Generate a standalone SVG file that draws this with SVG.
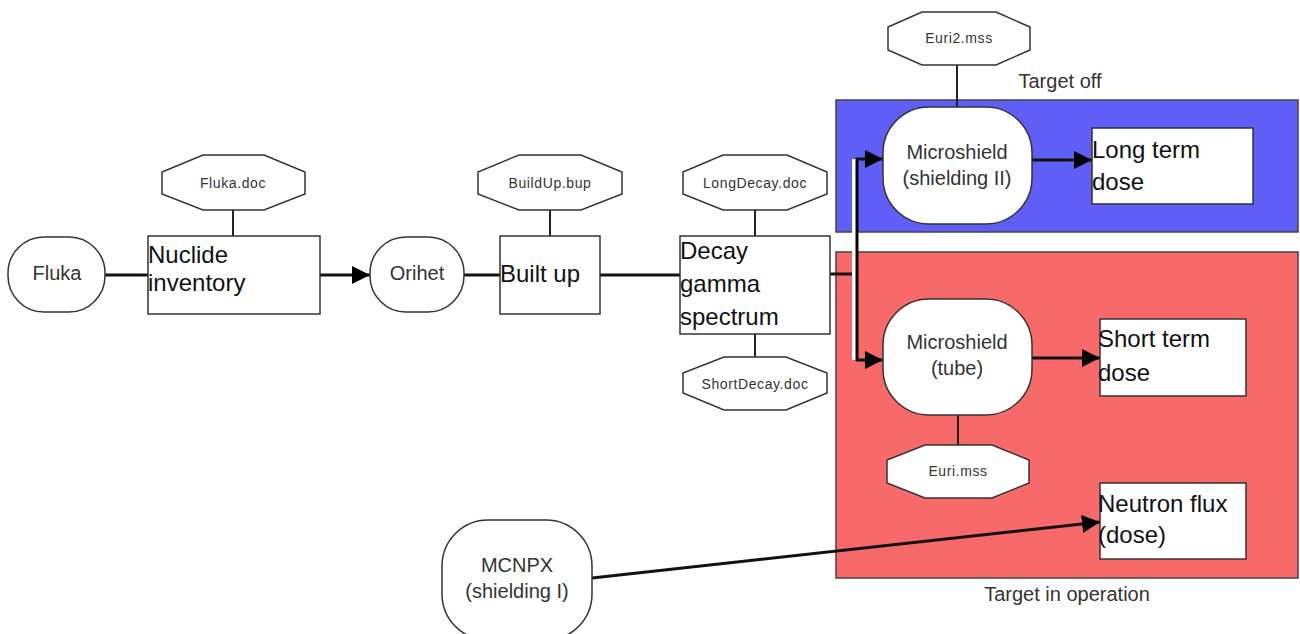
<svg xmlns="http://www.w3.org/2000/svg" width="1300" height="634" viewBox="0 0 1300 634">
<style>
.bg{fill:#fff}
.node{fill:#fff;stroke:#333;stroke-width:1.5}
.oct{fill:#fff;stroke:#333;stroke-width:1.5}
.zone{stroke:#444;stroke-width:1.5}
.big{font-family:"Liberation Sans",Arial,sans-serif;font-size:24px;fill:#111}
.mid{font-family:"Liberation Sans",Arial,sans-serif;font-size:20px;fill:#333;text-anchor:middle}
.sml{font-family:"Liberation Sans",Arial,sans-serif;font-size:14px;letter-spacing:0.6px;fill:#333;text-anchor:middle}
.con{stroke:#111;stroke-width:3;fill:none}
.thin{stroke:#222;stroke-width:2;fill:none}
.arr{marker-end:url(#ah)}
</style>
<defs>
<marker id="ah" markerUnits="userSpaceOnUse" markerWidth="18" markerHeight="18" refX="18" refY="9" orient="auto">
<path d="M0,0 L18,9 L0,18 z" fill="#000"/>
</marker>
</defs>
<rect class="bg" x="0" y="0" width="1300" height="634"/>

<g id="zone-target-off">
<rect class="zone" x="836" y="100" width="462" height="132" fill="#5f5ff8"/>
<text class="mid" x="1060" y="88">Target off</text>
</g>
<g id="zone-target-in-operation">
<rect class="zone" x="836" y="252" width="462" height="326" fill="#f86a6a"/>
<text class="mid" x="1067" y="601">Target in operation</text>
</g>

<g id="connectors">
<line class="con" x1="105" y1="275" x2="148" y2="275"/>
<line class="con arr" x1="320" y1="275" x2="370" y2="275"/>
<line class="con" x1="464" y1="275" x2="500" y2="275"/>
<line class="con" x1="600" y1="275" x2="680" y2="275"/>
<line class="con" x1="826" y1="274" x2="858" y2="274"/>
<line x1="854" y1="159" x2="854" y2="360" stroke="#fff" stroke-width="4"/>
<line x1="857" y1="158" x2="857" y2="361" stroke="#000" stroke-width="3"/>
<line class="con arr" x1="856" y1="159" x2="883" y2="159"/>
<line class="con arr" x1="856" y1="360" x2="883" y2="360"/>
<line class="con arr" x1="1032" y1="160" x2="1092" y2="160"/>
<line class="con arr" x1="1032" y1="358" x2="1100" y2="358"/>
<line class="con arr" x1="592" y1="578" x2="1100" y2="522"/>
<line class="thin" x1="233" y1="210" x2="233" y2="236"/>
<line class="thin" x1="550" y1="210" x2="550" y2="236"/>
<line class="thin" x1="755" y1="210" x2="755" y2="236"/>
<line class="thin" x1="755" y1="334" x2="755" y2="357"/>
<line class="thin" x1="957" y1="65" x2="957" y2="107"/>
<line class="thin" x1="958" y1="415" x2="958" y2="445"/>
</g>

<g id="fluka">
<rect class="node" x="8" y="237" width="97" height="75" rx="36" ry="36"/>
<text class="mid" x="57" y="280">Fluka</text>
</g>
<g id="fluka-doc">
<polygon class="oct" points="203,155 264,155 305,172 305,194 264,210 203,210 162,194 162,172"/>
<text class="sml" x="233" y="188">Fluka.doc</text>
</g>
<g id="nuclide-inventory">
<rect class="node" x="148" y="236" width="172" height="78"/>
<text class="big" x="148" y="263">Nuclide</text>
<text class="big" x="148" y="291">inventory</text>
</g>
<g id="orihet">
<rect class="node" x="370" y="237" width="94" height="75" rx="36" ry="36"/>
<text class="mid" x="417" y="280">Orihet</text>
</g>
<g id="buildup-bup">
<polygon class="oct" points="519,155 581,155 622,172 622,194 581,210 519,210 478,194 478,172"/>
<text class="sml" x="550" y="188">BuildUp.bup</text>
</g>
<g id="built-up">
<rect class="node" x="500" y="236" width="100" height="78"/>
<text class="big" x="500" y="282">Built up</text>
</g>
<g id="longdecay-doc">
<polygon class="oct" points="723,155 787,155 827,172 827,194 787,210 723,210 683,194 683,172"/>
<text class="sml" x="755" y="188">LongDecay.doc</text>
</g>
<g id="decay-gamma-spectrum">
<rect class="node" x="680" y="236" width="150" height="98"/>
<text class="big" x="680" y="259">Decay</text>
<text class="big" x="680" y="292">gamma</text>
<text class="big" x="680" y="325">spectrum</text>
</g>
<g id="shortdecay-doc">
<polygon class="oct" points="724,357 786,357 827,373 827,393 786,410 724,410 683,393 683,373"/>
<text class="sml" x="755" y="389">ShortDecay.doc</text>
</g>
<g id="euri2-mss">
<polygon class="oct" points="922,12 996,12 1030,27 1030,50 996,65 922,65 888,50 888,27"/>
<text class="sml" x="959" y="43">Euri2.mss</text>
</g>
<g id="microshield-shielding-ii">
<rect class="node" x="883" y="107" width="149" height="117" rx="46" ry="46"/>
<text class="mid" x="957" y="159">Microshield</text>
<text class="mid" x="957" y="185">(shielding II)</text>
</g>
<g id="long-term-dose">
<rect class="node" x="1092" y="128" width="161" height="76"/>
<text class="big" x="1092" y="158">Long term</text>
<text class="big" x="1092" y="190">dose</text>
</g>
<g id="microshield-tube">
<rect class="node" x="883" y="299" width="149" height="116" rx="46" ry="46"/>
<text class="mid" x="957" y="349">Microshield</text>
<text class="mid" x="957" y="375">(tube)</text>
</g>
<g id="short-term-dose">
<rect class="node" x="1100" y="319" width="146" height="77"/>
<text class="big" x="1098" y="347">Short term</text>
<text class="big" x="1098" y="381">dose</text>
</g>
<g id="euri-mss">
<polygon class="oct" points="925,445 992,445 1029,460 1029,483 992,498 925,498 887,483 887,460"/>
<text class="sml" x="958" y="476">Euri.mss</text>
</g>
<g id="neutron-flux-dose">
<rect class="node" x="1100" y="483" width="146" height="76"/>
<text class="big" x="1098" y="512">Neutron flux</text>
<text class="big" x="1098" y="543">(dose)</text>
</g>
<g id="mcnpx-shielding-i">
<rect class="node" x="442" y="520" width="150" height="120" rx="46" ry="46"/>
<text class="mid" x="517" y="572">MCNPX</text>
<text class="mid" x="517" y="598">(shielding I)</text>
</g>
</svg>
